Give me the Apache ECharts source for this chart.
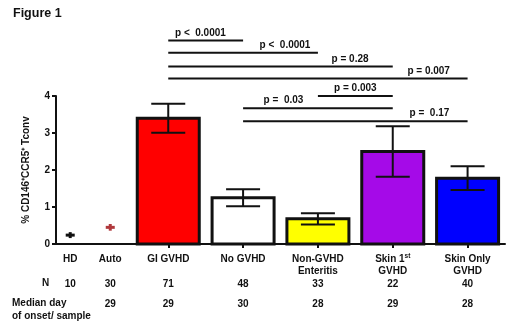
<!DOCTYPE html>
<html>
<head>
<meta charset="utf-8">
<script src="https://cdn.jsdelivr.net/npm/echarts@6/dist/echarts.min.js"></script>
<style>
    html, body { margin: 0; padding: 0; background: #fff; }
    #chart { width: 520px; height: 324px; }
</style>
</head>
<body>
<div id="chart"></div>
<script>
    // data
    const categories = ['HD', 'Auto', 'GI GVHD', 'No GVHD', 'Non-GVHD\nEnteritis', 'Skin 1|st\nGVHD', 'Skin Only\nGVHD']
    const means = [0.24, 0.45, 3.4, 1.25, 0.68, 2.5, 1.78]
    const sems = [0.08, 0.09, 0.39, 0.23, 0.15, 0.68, 0.32]
    const nCounts = ['10', '30', '71', '48', '33', '22', '40']
    const medianDays = ['', '29', '29', '30', '28', '29', '28']
    const yTicks = [0, 1, 2, 3, 4]
    const pLabels = ['p <  0.0001', 'p <  0.0001', 'p = 0.28', 'p = 0.007', 'p = 0.003', 'p =  0.03', 'p =  0.17']
    const pFrom = [2, 2, 2, 2, 4, 3, 3]
    const pTo = [3, 4, 5, 6, 5, 5, 6]

    // layout
    const slot = [0.38, 1.45, 3, 5, 7, 9, 11]
    const pLevel = [5.5, 5.17, 4.8, 4.47, 4.0, 3.67, 3.32]
    const pLabelAt = [0.43, 0.78, 0.81, 0.87, 0.5, 0.27, 0.83]
    const asBar = [false, false, true, true, true, true, true]
    const colors = ['#111111', '#b0383c', '#ff0000', '#ffffff', '#ffff00', '#a50ae8', '#0000ff']
    const font = 'Arial, "Liberation Sans", Helvetica, sans-serif'
    const ink = '#111'

    const nearest = v => {
        let best = 0
        slot.forEach((s, i) => { if (Math.abs(s - v) < Math.abs(slot[best] - v)) best = i })
        return best
    }

    const labelRich = {
        a: { fontSize: 10, fontWeight: 'bold', fontFamily: font, color: ink, lineHeight: 12 },
        s: { fontSize: 6.5, fontWeight: 'bold', fontFamily: font, color: ink, lineHeight: 12, verticalAlign: 'top', padding: [0, 0, 4, 0] }
    }

    const catText = name => name.split('\n').map(line => {
        const [main, sup] = line.split('|')
        return '{a|' + main + '}' + (sup ? '{s|' + sup + '}' : '')
    }).join('\n')

    const rowAxis = (offset, texts) => ({
        type: 'value', min: 0, max: 12, position: 'bottom', offset,
        axisLine: { show: false }, axisTick: { show: false }, splitLine: { show: false },
        axisLabel: {
            customValues: slot, margin: 10,
            fontSize: 10, fontWeight: 'bold', fontFamily: font, color: ink,
            formatter: v => texts[nearest(v)]
        }
    })

    const chart = echarts.init(document.getElementById('chart'))
    const option = {
        animation: false,
        backgroundColor: '#fff',
        grid: { left: 56, right: 15, top: 96, bottom: 80, outerBoundsMode: 'none' },
        xAxis: [{
            type: 'value', min: 0, max: 12, position: 'bottom',
            splitLine: { show: false },
            axisLine: { show: true, lineStyle: { color: ink, width: 2 } },
            axisTick: { show: true, customValues: slot.filter((s, i) => asBar[i]), length: 4, lineStyle: { color: ink, width: 2 } },
            axisLabel: {
                customValues: slot, margin: 9, rich: labelRich,
                formatter: v => catText(categories[nearest(v)])
            }
        },
        rowAxis(25, nCounts),
        rowAxis(45, medianDays)],
        yAxis: {
            type: 'value', min: yTicks[0], max: yTicks[yTicks.length - 1], interval: 1,
            name: '% CD146\u207aCCR5\u207a Tconv',
            nameLocation: 'middle', nameGap: 25, nameRotate: 90,
            nameTextStyle: { fontSize: 10, fontWeight: 'bold', fontFamily: font, color: ink },
            splitLine: { show: false },
            axisLine: { show: true, lineStyle: { color: ink, width: 2 } },
            axisTick: { show: true, length: 4, lineStyle: { color: ink, width: 2 } },
            axisLabel: { margin: 6, fontSize: 10, fontWeight: 'bold', fontFamily: font, color: ink }
        },
        graphic: [
            { type: 'text', left: 13, top: 7, style: { text: 'Figure 1', fontSize: 12.5, fontWeight: 'bold', fontFamily: font, fill: ink } },
            { type: 'text', left: 42, top: 278, style: { text: 'N', fontSize: 10, fontWeight: 'bold', fontFamily: font, fill: ink } },
            { type: 'text', left: 12, top: 297, style: { text: 'Median day\nof onset/ sample', fontSize: 10, lineHeight: 13, fontWeight: 'bold', fontFamily: font, fill: ink } }
        ],
        series: [{
            type: 'custom',
            clip: false,
            data: categories.map((c, i) => [slot[i], means[i], sems[i]]),
            encode: { x: 0, y: 1 },
            renderItem(params, api) {
                const i = params.dataIndex
                const x = api.value(0), m = api.value(1), e = api.value(2)
                const base = api.coord([x, 0])
                const top = api.coord([x, m])
                const hi = api.coord([x, m + e])
                const lo = api.coord([x, m - e])
                const line = (x1, y1, x2, y2, w) => ({
                    type: 'line', shape: { x1, y1, x2, y2 },
                    style: { stroke: asBar[i] ? ink : colors[i], lineWidth: w }
                })
                const children = []
                if (asBar[i]) {
                    children.push({
                        type: 'rect',
                        shape: { x: base[0] - 31, y: top[1], width: 62, height: base[1] - top[1] },
                        style: { fill: colors[i], stroke: ink, lineWidth: 3 }
                    })
                    children.push(line(hi[0], hi[1], lo[0], lo[1], 2))
                    children.push(line(hi[0] - 17, hi[1], hi[0] + 17, hi[1], 2))
                    children.push(line(lo[0] - 17, lo[1], lo[0] + 17, lo[1], 2))
                } else {
                    children.push(line(top[0] - 4.5, top[1], top[0] + 4.5, top[1], 3))
                    children.push(line(hi[0], hi[1], lo[0], lo[1], 3))
                }
                return { type: 'group', children }
            }
        }, {
            type: 'custom',
            clip: false,
            data: pLabels.map((t, i) => [slot[pFrom[i]], slot[pTo[i]], pLevel[i], pLabelAt[i]]),
            encode: { x: [0, 1], y: 2 },
            renderItem(params, api) {
                const i = params.dataIndex
                const a = api.coord([api.value(0), api.value(2)])
                const b = api.coord([api.value(1), api.value(2)])
                const f = api.value(3)
                return {
                    type: 'group',
                    children: [{
                        type: 'line',
                        shape: { x1: a[0], y1: a[1], x2: b[0], y2: b[1] },
                        style: { stroke: ink, lineWidth: 2 }
                    }, {
                        type: 'text',
                        x: a[0] + (b[0] - a[0]) * f, y: a[1] - 2.5,
                        style: {
                            text: pLabels[i], fill: ink, align: 'center', verticalAlign: 'bottom',
                            fontSize: 10, fontWeight: 'bold', fontFamily: font
                        }
                    }]
                }
            }
        }]
    }
    chart.setOption(option)
</script>
</body>
</html>
